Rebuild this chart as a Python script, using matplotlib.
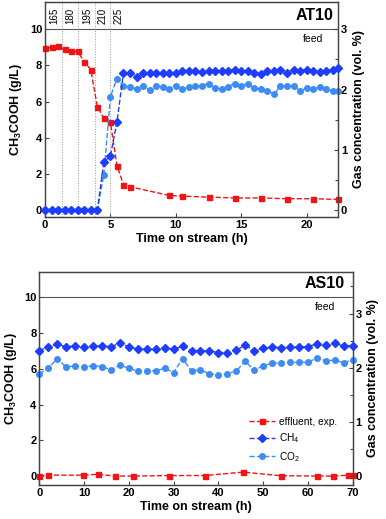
import matplotlib
matplotlib.use('Agg')
import matplotlib.pyplot as plt
import matplotlib.transforms as mtransforms
from matplotlib.ticker import MultipleLocator

plt.rcParams['font.family'] = ['Liberation Sans', 'DejaVu Sans']
plt.rcParams['mathtext.fontset'] = 'custom'
plt.rcParams['mathtext.rm'] = 'Liberation Sans'
plt.rcParams['mathtext.bf'] = 'Liberation Sans:bold'

# ---- AT10 data ----
t_eff_at = [0, 0.5, 1, 1.5, 2, 2.5, 3, 3.5, 4, 4.5, 5, 5.5, 6, 6.5, 9.5, 10.5,
            12.5, 14.5, 16.5, 18.5, 20.5, 22.4]
eff_at = [8.94, 9.0, 9.05, 8.88, 8.78, 8.77, 8.2, 7.77, 5.73, 5.08, 4.86, 2.47,
          1.42, 1.3, 0.82, 0.78, 0.73, 0.68, 0.68, 0.64, 0.64, 0.6]
t_gas_at = [0, 0.5, 1, 1.5, 2, 2.5, 3, 3.5, 4, 4.5, 5, 5.5, 6, 6.5, 7, 7.5, 8,
            8.5, 9, 9.5, 10, 10.5, 11, 11.5, 12, 12.5, 13, 13.5, 14, 14.5, 15,
            15.5, 16, 16.5, 17, 17.5, 18, 18.5, 19, 19.5, 20, 20.5, 21, 21.5,
            22, 22.4]
ch4_at = [0, 0, 0, 0, 0, 0, 0, 0, 0, 0.80, 0.90, 1.46,
          2.28, 2.28, 2.21, 2.28, 2.27, 2.27, 2.28, 2.28, 2.28, 2.30, 2.30,
          2.31, 2.29, 2.30, 2.31, 2.31, 2.31, 2.33, 2.30, 2.30, 2.28, 2.26,
          2.30, 2.31, 2.32, 2.27, 2.32, 2.31, 2.32, 2.30, 2.29, 2.31, 2.33, 2.36]
co2_at = [0, 0, 0, 0, 0, 0, 0, 0, 0, 0.59, 1.88, 2.18,
          2.06, 2.04, 2.01, 2.06, 2.00, 2.06, 2.04, 2.01, 2.06, 2.01, 2.04,
          2.06, 2.06, 2.10, 2.02, 2.01, 2.05, 2.10, 2.06, 2.10, 2.02, 2.01,
          1.98, 1.92, 2.06, 2.06, 2.06, 1.98, 2.02, 2.01, 2.04, 2.01, 1.97, 1.98]
step_bounds = [1.3, 2.55, 3.8, 5.0]
step_label_x = [0.7, 1.9, 3.2, 4.4, 5.6]
step_labels = ['165', '180', '195', '210', '225']

# ---- AS10 data ----
t_eff_as = [0, 2, 9.8, 13, 17, 21, 29, 37, 45.5, 54, 62, 65.5, 69, 70]
eff_as = [0.0, 0.05, 0.05, 0.1, 0.0, 0.0, 0.03, 0.03, 0.22, 0.02, 0.0, 0.0,
          0.05, 0.05]
t_gas_as = [0, 2, 4, 6, 8, 10, 12, 14, 16, 18, 20, 22, 24, 26, 28, 30, 32, 34,
            36, 38, 40, 42, 44, 46, 48, 50, 52, 54, 56, 58, 60, 62, 64, 66, 68, 70]
ch4_as = [2.31, 2.39, 2.43, 2.39, 2.40, 2.39, 2.40, 2.40, 2.39, 2.45, 2.39,
          2.34, 2.34, 2.34, 2.37, 2.34, 2.40, 2.31, 2.31, 2.31, 2.28, 2.28,
          2.32, 2.42, 2.31, 2.36, 2.38, 2.37, 2.39, 2.38, 2.39, 2.44, 2.42,
          2.45, 2.40, 2.41]
co2_as = [1.89, 1.99, 2.17, 2.01, 2.04, 2.01, 2.04, 2.02, 1.96, 2.05, 1.99,
          1.94, 1.94, 1.94, 1.99, 1.91, 2.17, 1.94, 1.96, 1.89, 1.86, 1.89,
          1.94, 2.12, 1.95, 2.04, 2.08, 2.09, 2.10, 2.10, 2.10, 2.18, 2.13,
          2.14, 2.09, 2.15]

red = '#f01414'
blue_ch4 = '#1f3dff'
blue_co2 = '#3d8cf5'
spine_c = '#444444'

fig = plt.figure(figsize=(3.86, 5.19), dpi=100)
ax1 = fig.add_axes([45 / 386, 1 - 217 / 519, 293 / 386, 215 / 519])
ax3 = fig.add_axes([39.3 / 386, 1 - 485 / 519, 313.4 / 386, 213.3 / 519])


def style(ax):
    for s in ax.spines.values():
        s.set_color(spine_c)
        s.set_linewidth(0.9)
    ax.tick_params(direction='in', length=3, width=0.8, color=spine_c,
                   labelsize=8, pad=2)
    ax.tick_params(which='minor', direction='in', length=2, width=0.8,
                   color=spine_c)
    for lab in ax.get_xticklabels() + ax.get_yticklabels():
        lab.set_fontweight('bold')


def draw_panel(ax, t_eff, eff, t_gas, ch4, co2, xlim, ylim, ratio, name,
               name_x, feed_x):
    ax.plot(t_eff, eff, '--', color=red, lw=1.0, marker='s', ms=3.6,
            label='effluent, exp.', clip_on=False, zorder=3)
    ax.axhline(10, color='#555555', lw=0.8)
    tr = mtransforms.blended_transform_factory(ax.transAxes, ax.transData)
    ax.text(name_x, 10.75, name, ha='right', va='center', transform=tr,
            fontsize=11.5, fontweight='bold')
    ax.text(feed_x, 9.45, 'feed', ha='center', va='center', transform=tr,
            fontsize=7.5)
    ax.set_xlim(*xlim)
    ax.set_ylim(*ylim)
    ax.set_yticks([0, 2, 4, 6, 8, 10])
    ax.set_xlabel('Time on stream (h)', fontsize=9, fontweight='bold',
                  labelpad=2)
    ax.set_ylabel(r'CH$_\mathbf{3}$COOH (g/L)', fontsize=9,
                  fontweight='bold', labelpad=4)
    tw = ax.twinx()
    tw.plot(t_gas, ch4, '--', color=blue_ch4, lw=1.0, marker='D', ms=3.8,
            label='CH$_4$', clip_on=False, zorder=3)
    tw.plot(t_gas, co2, '--', color=blue_co2, lw=1.0, marker='o', ms=4.0,
            label='CO$_2$', clip_on=False, zorder=2)
    tw.set_ylim(ylim[0] / ratio, ylim[1] / ratio)
    tw.set_yticks([0, 1, 2, 3])
    tw.yaxis.set_minor_locator(MultipleLocator(0.5))
    tw.set_ylabel('Gas concentration (vol. %)', fontsize=9,
                  fontweight='bold', labelpad=4)
    style(ax)
    style(tw)
    return tw


tw1 = draw_panel(ax1, t_eff_at, eff_at, t_gas_at, ch4_at, co2_at,
                 (0, 22.4), (-0.37, 11.5), 10 / 3, 'AT10', 0.985, 0.915)
ax1.set_xticks([0, 5, 10, 15, 20])
for b in step_bounds:
    ax1.axvline(b, color='#999999', lw=0.7, ls=':')
for x, s in zip(step_label_x, step_labels):
    ax1.text(x, 10.75, s, rotation=90, ha='center', va='center', fontsize=7)
style(ax1)

tw3 = draw_panel(ax3, t_eff_as, eff_as, t_gas_as, ch4_as, co2_as,
                 (0, 70), (-0.5, 11.43), 3.03, 'AS10', 0.975, 0.912)
ax3.set_xticks([0, 10, 20, 30, 40, 50, 60, 70])
style(ax3)

h1, l1 = ax3.get_legend_handles_labels()
h2, l2 = tw3.get_legend_handles_labels()
tw3.legend(h1 + h2, l1 + l2, loc='center right', bbox_to_anchor=(0.98, 0.21),
           frameon=False, fontsize=7.3, handlelength=2.6, labelspacing=0.45,
           handletextpad=0.4)

fig.savefig('out.png', dpi=100)
